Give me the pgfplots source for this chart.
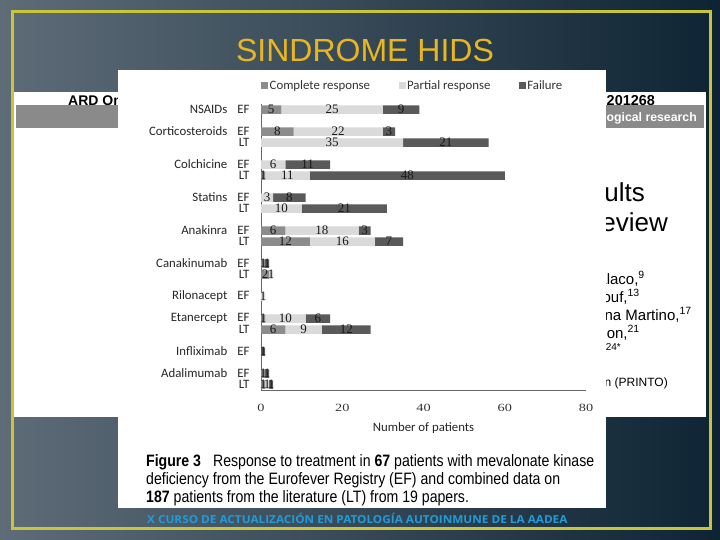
\documentclass[border=0pt]{standalone}
\usepackage{fontspec}
\setmainfont{Carlito}
\newfontfamily\numfont{Liberation Serif}
\newfontfamily\ticknumfont[FakeStretch=1.3]{Liberation Serif}
\newfontfamily\arialfont{Liberation Sans}
\newfontfamily\capfont[FakeStretch=0.855]{Liberation Sans}
\newfontfamily\footfont[FakeStretch=1.07]{Open Sans}
\usepackage{pgfplots}
\pgfplotsset{compat=1.18}

\definecolor{bgleft}{RGB}{94,108,120}
\definecolor{bgright}{RGB}{14,36,52}
\definecolor{frameyellow}{RGB}{200,196,60}
\definecolor{titleyellow}{RGB}{232,182,30}
\definecolor{footblue}{RGB}{32,156,218}
\definecolor{band}{RGB}{138,138,138}
\definecolor{cresp}{RGB}{140,140,140}
\definecolor{presp}{RGB}{218,218,218}
\definecolor{fail}{RGB}{90,90,90}

\begin{document}
\begin{tikzpicture}
\useasboundingbox (0pt,0pt) rectangle (720pt,-540pt);
\begin{scope}[x=1pt,y=-1pt]
  % slide background
  \shade[left color=bgleft, right color=bgright] (0,0) rectangle (720,540);
  % article page behind the figure
  \fill[white] (14,92) rectangle (706,417);
  \fill[band] (16,105) rectangle (704,128);
  \node[anchor=base west, inner sep=0, font=\arialfont\bfseries\fontsize{14}{16}\selectfont] at (68,106) {ARD Online First, published on};
  \node[anchor=base east, inner sep=0, font=\arialfont\bfseries\fontsize{14.4}{16}\selectfont] at (655,106) {doi:10.1136/annrheumdis-2012-201268};
  \node[anchor=base east, inner sep=0, text=white, font=\arialfont\bfseries\fontsize{12.3}{14}\selectfont] at (697,122) {Clinical and epidemiological research};
  \node[anchor=base east, inner sep=0, font=\arialfont\fontsize{26}{28}\selectfont] at (645,202) {results};
  \node[anchor=base east, inner sep=0, font=\arialfont\fontsize{26}{28}\selectfont] at (668,231) {review};
  \begin{scope}[every node/.style={anchor=base east, inner sep=0, font=\arialfont\fontsize{15}{17}\selectfont}]
    \node at (645,284) {Antonella Insalaco,\textsuperscript{9}};
    \node at (640,302) {Al-Mayouf,\textsuperscript{13}};
    \node at (692,320) {Silvana Martino,\textsuperscript{17}};
    \node at (640,338) {Anna Simon,\textsuperscript{21}};
    \node at (621,350) {\fontsize{10}{12}\selectfont 24*};
    \node at (668,386) {\fontsize{12}{14}\selectfont Organisation (PRINTO)};
  \end{scope}
  % title
  \node[text=titleyellow, font=\arialfont\fontsize{32}{34}\selectfont] at (365,50) {SINDROME HIDS};
  % figure panel
  \fill[white] (118,70) rectangle (606,508);
  % caption
  \begin{scope}[every node/.style={anchor=base west, inner sep=0, font=\capfont\fontsize{16.5}{18}\selectfont}]
    \node at (146,466) {\textbf{Figure 3}\hspace{12pt}Response to treatment in \textbf{67} patients with mevalonate kinase};
    \node at (146,484) {deficiency from the Eurofever Registry (EF) and combined data on};
    \node at (146,502) {\textbf{187} patients from the literature (LT) from 19 papers.};
  \end{scope}
  % footer
  \node[anchor=base west, inner sep=0, text=footblue, font=\footfont\bfseries\fontsize{11}{12}\selectfont] at (147,523) {X CURSO DE ACTUALIZACIÓN EN PATOLOGÍA AUTOINMUNE DE LA AADEA};
  % slide frame
  \draw[frameyellow, line width=3pt] (12,12) rectangle (710,528);
\end{scope}

\begin{axis}[
  at={(261pt,-390pt)}, anchor=south west,
  scale only axis, width=325pt, height=286pt,
  xmin=0, xmax=80, ymin=-25.5, ymax=0.5,
  xbar stacked, bar width=8.5pt, bar shift=0pt,
  axis x line*=bottom, axis y line*=left,
  axis line style={draw=black!60, line width=0.7pt, -},
  major tick length=0pt,
  xtick={0,20,40,60,80},
  ytick={0,-2,-3,-5,-6,-8,-9,-11,-12,-14,-15,-17,-19,-20,-22,-24,-25},
  yticklabels={{NSAIDs\hspace{10pt}EF},{Corticosteroids\hspace{10pt}EF},LT,
    {Colchicine\hspace{10pt}EF},LT,{Statins\hspace{10pt}EF},LT,
    {Anakinra\hspace{10pt}EF},LT,{Canakinumab\hspace{10pt}EF},LT,
    {Rilonacept\hspace{10pt}EF},{Etanercept\hspace{10pt}EF},LT,
    {Infliximab\hspace{10pt}EF},{Adalimumab\hspace{10pt}EF},LT},
  yticklabel style={font=\fontsize{12.8}{13}\selectfont, text=black!85, xshift=-8pt},
  xticklabel style={font=\ticknumfont\fontsize{11}{12}\selectfont, text=black!80, yshift=-11pt},
  /pgf/number format/assume math mode=true,
  xlabel={Number of patients},
  xlabel style={font=\fontsize{12.8}{13}\selectfont, text=black!85, at={(axis description cs:0.5,0)}, anchor=center, yshift=-38pt},
  point meta=explicit symbolic,
  nodes near coords={\ifnum\pgfplotspointmeta>0 \pgfplotspointmeta\fi},
  every node near coord/.append style={anchor=center, inner sep=0pt,
    font=\numfont\fontsize{13}{13}\selectfont, text=black!90},
  legend columns=3,
  legend style={at={(axis description cs:0,1.065)}, anchor=west, draw=none, fill=none,
    inner sep=0pt, font=\fontsize{12.8}{13}\selectfont, text=black!80,
    nodes={inner sep=1.5pt},
    /tikz/every even column/.append style={column sep=27pt}},
  legend image code/.code={\fill[#1] (0pt,-3.5pt) rectangle (7pt,3.5pt);},
]
\addplot[fill=cresp, draw=none] coordinates {
  (5,0) [5] (8,-2) [8] (0,-3) [0] (0,-5) [0] (1,-6) [1] (0,-8) [0] (0,-9) [0]
  (6,-11) [6] (12,-12) [12] (1,-14) [1] (2,-15) [2] (0,-17) [0] (1,-19) [1]
  (6,-20) [6] (0,-22) [0] (1,-24) [1] (1,-25) [1]};
\addlegendentry{Complete response}
\addplot[fill=presp, draw=none] coordinates {
  (25,0) [25] (22,-2) [22] (35,-3) [35] (6,-5) [6] (11,-6) [11] (3,-8) [3] (10,-9) [10]
  (18,-11) [18] (16,-12) [16] (0,-14) [0] (1,-15) [1] (1,-17) [1] (10,-19) [10]
  (9,-20) [9] (0,-22) [0] (0,-24) [0] (1,-25) [1]};
\addlegendentry{Partial response}
\addplot[fill=fail, draw=none] coordinates {
  (9,0) [9] (3,-2) [3] (21,-3) [21] (11,-5) [11] (48,-6) [48] (8,-8) [8] (21,-9) [21]
  (3,-11) [3] (7,-12) [7] (1,-14) [1] (0,-15) [0] (0,-17) [0] (6,-19) [6]
  (12,-20) [12] (1,-22) [1] (1,-24) [1] (1,-25) [1]};
\addlegendentry{Failure}
\end{axis}
\end{tikzpicture}
\end{document}
